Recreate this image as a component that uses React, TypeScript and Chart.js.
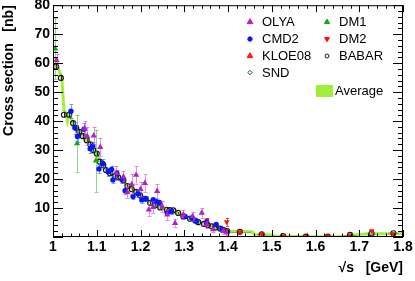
import React, { useEffect, useRef } from 'react';
import { Chart, registerables } from 'chart.js';
Chart.register(...registerables);

// ---------------- data ----------------
const olyaE = [1.008, 1.072, 1.078, 1.093, 1.108, 1.145, 1.161, 1.170, 1.180, 1.190, 1.200, 1.210, 1.219, 1.229, 1.238, 1.250, 1.261, 1.279, 1.298, 1.319, 1.340, 1.351, 1.366, 1.389, 1.398];
const olyaS = [61.0, 37.4, 34.8, 35.0, 31.0, 22.0, 20.8, 15.5, 18.2, 21.4, 16.5, 18.6, 9.4, 10.3, 15.8, 10.5, 7.7, 4.8, 7.7, 7.1, 8.3, 4.3, 2.6, 2.0, 1.6];
const olyaErr = [2.0, 2.6, 3.0, 3.0, 3.2, 2.5, 2.0, 2.0, 3.5, 3.0, 2.5, 3.0, 2.0, 2.0, 2.5, 2.0, 1.8, 1.3, 1.5, 1.5, 1.8, 1.2, 1.0, 0.8, 0.8];

const cmdE = [1.041, 1.050, 1.056, 1.071, 1.085, 1.091, 1.105, 1.114, 1.126, 1.134, 1.137, 1.146, 1.158, 1.165, 1.183, 1.194, 1.203, 1.213, 1.229, 1.235, 1.243, 1.261, 1.271, 1.302, 1.317, 1.328, 1.351, 1.373, 1.386];
const cmdS = [43.4, 37.7, 34.7, 37.2, 30.5, 31.3, 23.5, 25.4, 22.5, 23.3, 19.7, 22.0, 19.7, 16.0, 14.0, 14.9, 12.8, 13.2, 12.8, 12.3, 11.9, 8.3, 8.8, 7.1, 6.6, 5.4, 5.1, 4.3, 2.8];
const cmdErr = [2.4, 2.0, 2.0, 2.2, 1.6, 1.6, 1.5, 1.4, 1.3, 1.3, 1.2, 1.2, 1.1, 1.0, 1.0, 1.0, 0.9, 0.9, 0.9, 0.8, 0.8, 0.7, 0.7, 0.6, 0.6, 0.5, 0.5, 0.5, 0.4];

const kloeE: number[] = [];
const kloeS: number[] = [];

const sndE: number[] = [];
const sndS: number[] = [];

const dm1E = [1.005, 1.055, 1.098];
const dm1S = [65.0, 32.3, 26.3];
const dm1Err = [10.5, 9.8, 10.7];

const dm2E = [1.352, 1.397, 1.427, 1.477, 1.526, 1.578, 1.628, 1.679, 1.728, 1.778];
const dm2S = [5.8, 5.2, 1.7, 1.1, 0.25, 0.2, 0.25, 0.6, 2.1, 1.1];
const dm2Err = [0.6, 1.4, 0.3, 0.3, 0.2, 0.2, 0.2, 0.3, 0.4, 0.3];

const babarE = [1.007, 1.018, 1.025, 1.037, 1.046, 1.053, 1.060, 1.068, 1.077, 1.085, 1.092, 1.100, 1.107, 1.115, 1.121, 1.130, 1.142, 1.149, 1.161, 1.170, 1.180, 1.190, 1.199, 1.210, 1.222, 1.233, 1.245, 1.260, 1.267, 1.275, 1.286, 1.298, 1.313, 1.325, 1.332, 1.345, 1.354, 1.363, 1.372, 1.382, 1.390, 1.398, 1.427, 1.477, 1.526, 1.578, 1.628, 1.679, 1.728, 1.778];
const babarS = [58.8, 54.9, 42.2, 42.2, 39.3, 37.7, 36.3, 34.8, 33.4, 32.0, 30.0, 28.8, 26.0, 24.8, 23.1, 22.0, 21.0, 20.6, 19.5, 17.6, 16.5, 15.6, 14.4, 13.2, 11.8, 11.0, 10.2, 9.4, 9.3, 9.2, 8.3, 7.1, 6.3, 5.7, 5.1, 4.5, 4.1, 3.7, 3.3, 2.9, 2.4, 2.0, 1.8, 0.9, 0.3, 0.15, 0.15, 0.7, 1.2, 1.3];
const babarErr = [1.2, 1.1, 1.0, 1.0, 1.0, 0.9, 0.9, 0.9, 0.8, 0.8, 0.8, 0.8, 0.7, 0.7, 0.7, 0.7, 0.6, 0.6, 0.6, 0.6, 0.5, 0.5, 0.5, 0.5, 0.4, 0.4, 0.4, 0.4, 0.4, 0.4, 0.3, 0.3, 0.3, 0.3, 0.3, 0.3, 0.3, 0.3, 0.3, 0.3, 0.3, 0.3, 0.4, 0.3, 0.2, 0.2, 0.2, 0.3, 0.3, 0.3];
const babarErrX = [0, 0, 0, 0, 0, 0, 0, 0, 0, 0, 0, 0, 0, 0, 0, 0, 0, 0, 0, 0, 0, 0, 0, 0, 0, 0, 0, 0, 0, 0, 0, 0, 0, 0, 0, 0, 0, 0, 0, 0, 0, 0, 0.025, 0.01, 0.008, 0.006, 0.006, 0.015, 0.01, 0.012];

const avgE = [1.0, 1.005, 1.01, 1.015, 1.02, 1.025, 1.03, 1.033, 1.037, 1.04, 1.046, 1.053, 1.06, 1.068, 1.077, 1.085, 1.092, 1.1, 1.107, 1.115, 1.121, 1.13, 1.142, 1.149, 1.161, 1.17, 1.18, 1.19, 1.2, 1.21, 1.222, 1.233, 1.245, 1.26, 1.275, 1.286, 1.298, 1.313, 1.325, 1.345, 1.363, 1.382, 1.398, 1.41, 1.455, 1.46, 1.5, 1.51, 1.55, 1.6, 1.67, 1.68, 1.7, 1.72, 1.8];
const avgS = [62, 61, 59, 57, 55, 44, 42.5, 40, 42.5, 41.5, 39.3, 37.5, 36.3, 34.8, 33.3, 32, 30.3, 28.5, 26.3, 24.8, 23.5, 22.3, 21.2, 20.6, 19.3, 17.8, 16.6, 15.6, 14.5, 13.3, 12.0, 11.1, 10.3, 9.5, 9.0, 8.2, 7.2, 6.3, 5.7, 4.6, 3.7, 2.9, 2.1, 2.0, 1.8, 0.9, 0.7, 0.3, 0.2, 0.1, 0.2, 0.8, 0.9, 1.1, 1.2];

const xTicks = [1, 1.1, 1.2, 1.3, 1.4, 1.5, 1.6, 1.7, 1.8];
const yTicks = [0, 10, 20, 30, 40, 50, 60, 70, 80];

const FONT = "'Liberation Sans', Arial, Helvetica, sans-serif";

function pts(xs: number[], ys: number[]) {
  return xs.map((x, i) => ({ x, y: ys[i] }));
}

// ---------------- plugins ----------------
const errorBarPlugin = {
  id: 'errorBars',
  beforeDatasetDraw(chart: any, args: any) {
    const ds: any = chart.data.datasets[args.index];
    if (!ds.errY && !ds.errX) return;
    const xs = chart.scales.x, ys = chart.scales.y;
    const ctx = chart.ctx;
    const { left, right, top, bottom } = chart.chartArea;
    ctx.save();
    ctx.beginPath();
    ctx.rect(left, top, right - left, bottom - top);
    ctx.clip();
    ctx.lineWidth = 1;
    ds.data.forEach((p: any, i: number) => {
      const ex = ds.errX ? ds.errX[i] : 0;
      const ey = ds.errY ? ds.errY[i] : 0;
      ctx.strokeStyle = ex > 0 && ds.errColorX ? ds.errColorX : ds.errColor;
      const px = Math.round(xs.getPixelForValue(p.x)) + 0.5;
      if (ey > 0) {
        const y1 = ys.getPixelForValue(p.y + ey);
        const y2 = ys.getPixelForValue(Math.max(p.y - ey, 0));
        ctx.beginPath();
        ctx.moveTo(px, y1);
        ctx.lineTo(px, y2);
        if (ds.cap) {
          ctx.moveTo(px - ds.cap, Math.round(y1) + 0.5);
          ctx.lineTo(px + ds.cap, Math.round(y1) + 0.5);
          ctx.moveTo(px - ds.cap, Math.round(y2) + 0.5);
          ctx.lineTo(px + ds.cap, Math.round(y2) + 0.5);
        }
        ctx.stroke();
      }
      if (ex > 0) {
        const py = Math.round(ys.getPixelForValue(p.y)) + 0.5;
        ctx.beginPath();
        ctx.moveTo(xs.getPixelForValue(p.x - ex), py);
        ctx.lineTo(xs.getPixelForValue(p.x + ex), py);
        ctx.stroke();
      }
    });
    ctx.restore();
  },
};

const framePlugin = {
  id: 'frame',
  afterDatasetsDraw(chart: any) {
    const ctx = chart.ctx;
    const { left, right, top, bottom } = chart.chartArea;
    const xs = chart.scales.x, ys = chart.scales.y;
    ctx.save();
    ctx.strokeStyle = '#000';
    ctx.lineWidth = 1;
    ctx.strokeRect(left + 0.5, top + 0.5, right - left - 1, bottom - top - 1);
    ctx.beginPath();
    for (let k = 0; k <= 40; k++) {
      const v = k * 2;
      const y = Math.round(ys.getPixelForValue(v)) + 0.5;
      const len = v % 10 === 0 ? 10 : 5;
      ctx.moveTo(left, y); ctx.lineTo(left + len, y);
      ctx.moveTo(right, y); ctx.lineTo(right - len, y);
    }
    for (let k = 0; k <= 40; k++) {
      const v = 1 + k * 0.02;
      const x = Math.round(xs.getPixelForValue(v)) + 0.5;
      const len = k % 5 === 0 ? 7 : 3.5;
      ctx.moveTo(x, bottom); ctx.lineTo(x, bottom - len);
      ctx.moveTo(x, top); ctx.lineTo(x, top + len);
    }
    ctx.stroke();
    ctx.restore();
  },
};

function drawMarker(ctx: CanvasRenderingContext2D, style: string, x: number, y: number, r: number, fill: string, stroke: string, rot: number) {
  ctx.save();
  ctx.translate(x, y);
  ctx.rotate((rot * Math.PI) / 180);
  ctx.beginPath();
  if (style === 'triangle') {
    ctx.moveTo(0, -r);
    ctx.lineTo(r * 0.866, r * 0.5);
    ctx.lineTo(-r * 0.866, r * 0.5);
    ctx.closePath();
  } else if (style === 'rectRot') {
    ctx.moveTo(0, -r); ctx.lineTo(r, 0); ctx.lineTo(0, r); ctx.lineTo(-r, 0); ctx.closePath();
  } else {
    ctx.arc(0, 0, r, 0, Math.PI * 2);
  }
  ctx.fillStyle = fill;
  ctx.fill();
  ctx.strokeStyle = stroke;
  ctx.lineWidth = 1;
  ctx.stroke();
  ctx.restore();
}

const legendPlugin = {
  id: 'customLegend',
  afterDraw(chart: any) {
    const ctx = chart.ctx;
    const dss: any[] = chart.data.datasets;
    const slots: Record<string, [number, number]> = {
      OLYA: [250, 22], CMD2: [250, 39], KLOE08: [250, 56], SND: [250, 72.5],
      DM1: [327, 22], DM2: [327, 39], BABAR: [327, 56],
    };
    ctx.save();
    ctx.font = `13px ${FONT}`;
    ctx.textBaseline = 'middle';
    ctx.textAlign = 'left';
    ctx.fillStyle = '#000';
    dss.forEach((ds) => {
      const s = slots[ds.label];
      if (s) {
        drawMarker(ctx, ds.pointStyle, s[0], s[1], ds.legendR, ds.pointBackgroundColor, ds.pointBorderColor, ds.pointRotation || 0);
        ctx.fillStyle = '#000';
        ctx.fillText(ds.label, s[0] + 12, s[1] + 0.5);
      } else if (ds.label === 'Average') {
        ctx.fillStyle = ds.legendFill;
        ctx.fillRect(316, 85, 17, 12);
        ctx.fillStyle = '#000';
        ctx.fillText(ds.label, 335, 91.5);
      }
    });
    ctx.restore();
  },
};

// ---------------- component ----------------
export default function App() {
  const ref = useRef<HTMLCanvasElement>(null);
  useEffect(() => {
    const datasets: any[] = [
      {
        label: 'OLYA', data: pts(olyaE, olyaS), errY: olyaErr, errColor: 'rgba(200,60,210,0.55)', cap: 2,
        pointStyle: 'triangle', pointRadius: 3.6, pointBackgroundColor: '#b41fc8', pointBorderColor: '#b41fc8', pointBorderWidth: 0, legendR: 3.3,
      },
      {
        label: 'CMD2', data: pts(cmdE, cmdS), errY: cmdErr, errColor: 'rgba(60,100,255,0.6)', cap: 2,
        pointStyle: 'circle', pointRadius: 2.7, pointBackgroundColor: '#0a14ff', pointBorderColor: '#0a14ff', pointBorderWidth: 0, legendR: 2.2,
      },
      {
        label: 'KLOE08', data: pts(kloeE, kloeS),
        pointStyle: 'triangle', pointRadius: 3.5, pointBackgroundColor: '#ff1a1a', pointBorderColor: '#ff1a1a', pointBorderWidth: 0, legendR: 3.3,
      },
      {
        label: 'SND', data: pts(sndE, sndS),
        pointStyle: 'rectRot', pointRadius: 2.5, pointBackgroundColor: '#ffffff', pointBorderColor: '#0a5a0a', pointBorderWidth: 1, legendR: 2.2,
      },
      {
        label: 'DM1', data: pts(dm1E, dm1S), errY: dm1Err, errColor: 'rgba(60,190,60,0.6)', cap: 2,
        pointStyle: 'triangle', pointRadius: 3.6, pointBackgroundColor: '#11aa11', pointBorderColor: '#11aa11', pointBorderWidth: 0, legendR: 3.0,
      },
      {
        label: 'DM2', data: pts(dm2E, dm2S), errY: dm2Err, errColor: 'rgba(255,30,30,0.8)', cap: 1.5,
        pointStyle: 'triangle', pointRotation: 180, pointRadius: 3.2, pointBackgroundColor: '#ff1010', pointBorderColor: '#ff1010', pointBorderWidth: 0, legendR: 2.8,
      },
      {
        label: 'BABAR', data: pts(babarE, babarS), errY: babarErr, errX: babarErrX, errColor: '#222222', errColorX: 'rgba(140,140,140,0.8)',
        pointStyle: 'circle', pointRadius: 2.5, pointBackgroundColor: 'rgba(0,0,0,0)', pointBorderColor: '#1a1a1a', pointBorderWidth: 1.2, legendR: 2.0,
      },
      {
        label: 'Average', type: 'line', data: pts(avgE, avgS), borderColor: '#a3ee3a', borderWidth: 3, pointRadius: 0,
        fill: false, tension: 0, legendFill: '#9fee3a',
      },
    ];
    const chart = new Chart(ref.current as HTMLCanvasElement, {
      type: 'scatter',
      data: { datasets },
      plugins: [errorBarPlugin, framePlugin, legendPlugin],
      options: {
        animation: false,
        responsive: false,
        maintainAspectRatio: false,
        devicePixelRatio: 1,
        layout: { padding: { top: 4, right: 12, left: 0, bottom: 0 } },
        plugins: { legend: { display: false }, tooltip: { enabled: false } },
        scales: {
          x: {
            type: 'linear', min: 1, max: 1.8,
            afterBuildTicks: (s: any) => { s.ticks = xTicks.map((v) => ({ value: v })); },
            afterFit: (s: any) => { s.height = 44; s.paddingLeft = 0; s.paddingRight = 0; },
            ticks: {
              color: '#000', padding: 2, maxRotation: 0, autoSkip: false,
              font: { family: FONT, size: 14, weight: 'bold' },
              callback: (v: any) => (Number(v) === 1 ? '1' : Number(v).toFixed(1)),
            },
            grid: { display: false, drawTicks: false },
            border: { display: false },
            title: {
              display: true, text: '\u221As   [GeV]', align: 'end', color: '#000',
              font: { family: FONT, size: 14, weight: 'bold' }, padding: { top: 0, bottom: 4 },
            },
          },
          y: {
            type: 'linear', min: 0, max: 80,
            afterBuildTicks: (s: any) => { s.ticks = yTicks.map((v) => ({ value: v })); },
            afterFit: (s: any) => { s.width = 53; s.paddingTop = 0; s.paddingBottom = 0; },
            ticks: {
              color: '#000', padding: 3, autoSkip: false,
              font: { family: FONT, size: 14, weight: 'bold' },
              callback: (v: any) => (Number(v) === 0 ? '' : String(v)),
            },
            grid: { display: false, drawTicks: false },
            border: { display: false },
            title: {
              display: true, text: 'Cross section   [nb]', align: 'end', color: '#000',
              font: { family: FONT, size: 14, weight: 'bold' }, padding: { top: 1, bottom: 0 },
            },
          },
        },
      } as any,
    });
    return () => chart.destroy();
  }, []);
  return (
    <div style={{ position: 'absolute', left: 0, top: 0, width: 415, height: 281, background: '#fff' }}>
      <canvas ref={ref} width={415} height={281} style={{ display: 'block', width: 415, height: 281 }} />
    </div>
  );
}
